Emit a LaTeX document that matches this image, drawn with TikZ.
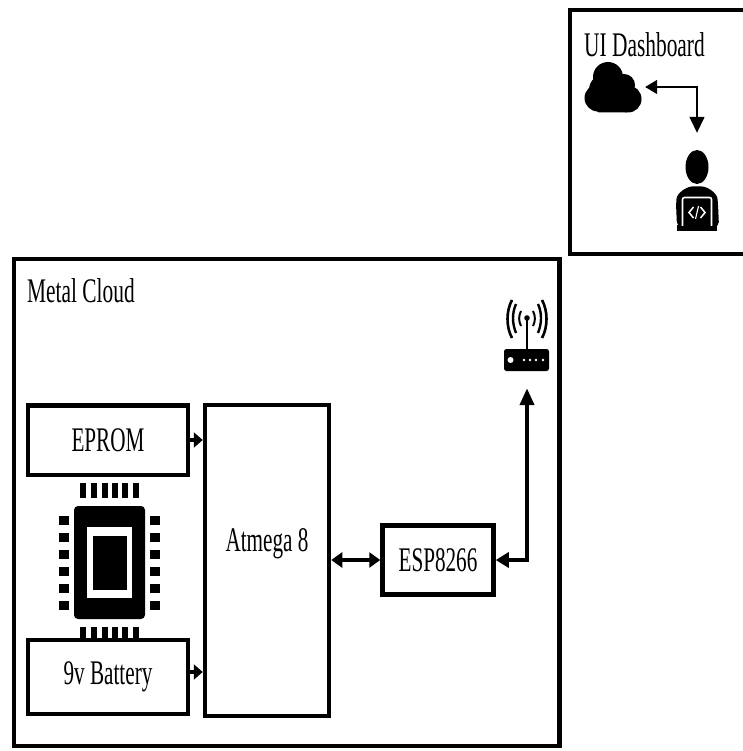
\documentclass[tikz,border=0pt]{standalone}
\usepackage{fontspec}
\setmainfont{Liberation Serif}
\usetikzlibrary{arrows.meta}
\tikzset{
  frame/.style={draw=black,line width=4.5pt,fill=none,inner sep=0pt},
  blockbox/.style={draw=black,line width=4.5pt,fill=white,inner sep=0pt},
  lbl/.style={inner sep=0pt,text=black},
  link/.style={line width=4pt,-{Triangle[length=9pt,width=15pt]}},
  dlink/.style={line width=4pt,{Triangle[length=11pt,width=15pt]}-{Triangle[length=11pt,width=15pt]}},
  thin link/.style={line width=1.4pt,{Triangle[length=12pt,width=14pt]}-{Triangle[length=16pt,width=15pt]}},
  anchorbox/.style={inner sep=0pt,draw=none,fill=none},
}
\newcommand{\tall}[2]{\scalebox{#1}[1.5]{\fontsize{23}{23}\selectfont #2}}
\begin{document}
\begin{tikzpicture}[x=1pt,y=-1pt]
\useasboundingbox (0,0) rectangle (742,751);
\fill[white] (0,0) rectangle (742,751);
% frames
\draw[frame] (570,10) -- (744,10);
\draw[frame] (570,8) -- (570,254) -- (744,254);
\draw[frame] (14,259) rectangle (559.5,746);
\node[lbl,anchor=west] (uilabel) at (584,45) {\tall{0.93}{UI Dashboard}};
\node[lbl,anchor=west] (mclabel) at (27,291) {\tall{0.93}{Metal Cloud}};
% blocks
\node[blockbox,minimum width=160pt,minimum height=69.5pt] (eprom) at (108,440) {\tall{0.92}{EPROM}};
\node[blockbox,minimum width=160pt,minimum height=74pt] (batt) at (108,677) {\tall{0.92}{9v Battery}};
\node[blockbox,minimum width=124pt,minimum height=311pt] (atm) at (267,560.5) {};
\node[lbl] (atmlabel) at (267,544) {\tall{0.92}{Atmega 8}};
\node[blockbox,minimum width=111pt,minimum height=69pt] (esp) at (438,560) {\tall{0.92}{ESP8266}};
% chip
\fill[black,rounded corners=4pt] (74,506) rectangle (145,619);
\fill[white] (87,526.5) rectangle (132,598);
\fill[black] (92.5,535.5) rectangle (127,590);
\foreach \x in {80,91,101.5,112,122,133}{\fill[black] (\x,483) rectangle +(6,15);\fill[black] (\x,627) rectangle +(6,13);}
\foreach \y in {516,532.5,550,567,584,600.5}{\fill[black] (59,\y) rectangle +(10,9);\fill[black] (150,\y) rectangle +(9.5,9);}
% router
\node[anchorbox,minimum width=44pt,minimum height=22pt] (router) at (527,377) {};
\fill[black,rounded corners=2.5pt] (504,349) rectangle (549,371);
\fill[white] (510.5,360) circle (3pt);
\foreach \x in {524,530,536,543}{\fill[white] (\x,360) circle (1.3pt);}
\draw[black,line width=2.4pt] (527,349) -- (527,318);
\fill[black] (527,318) circle (2.8pt);
\draw[black,line width=2pt] (521,311) .. controls (518.5,316) and (518.5,321) .. (521,326);
\draw[black,line width=2pt] (533,311) .. controls (535.5,316) and (535.5,321) .. (533,326);
\draw[black,line width=2.4pt] (516,304) .. controls (512,313) and (512,323) .. (516,333);
\draw[black,line width=2.4pt] (538,304) .. controls (542,313) and (542,323) .. (538,333);
\draw[black,line width=2.6pt] (512,300) .. controls (506,311) and (506,327) .. (512,338);
\draw[black,line width=2.6pt] (542,300) .. controls (548,311) and (548,327) .. (542,338);
% cloud
\node[anchorbox,minimum width=60pt,minimum height=52pt] (cloud) at (615,87) {};
\fill[black,rounded corners=2pt] (597,90) rectangle (628,112.5);
\fill[black] (598,98) circle (13.5pt);
\fill[black] (608,77) circle (15pt);
\fill[black] (605,90) circle (16pt);
\fill[black] (624,85) circle (11pt);
\fill[black] (628,99) circle (13.5pt);
% person
\node[anchorbox,minimum width=44pt,minimum height=98pt] (person) at (697,182) {};
\fill[black] (697,167) ellipse (11.5pt and 17pt);
\fill[black,rounded corners=5pt] (677,227) -- (676,204) .. controls (677,193) and (686,187) .. (697,186)
  .. controls (708,187) and (717,193) .. (718,204) -- (719,227) -- cycle;
\fill[black] (677,225) rectangle (717,231);
\draw[white,line width=1.6pt,rounded corners=2pt,fill=black] (682.5,226) -- (682.5,197.5) -- (711.5,197.5) -- (711.5,226);
\fill[black] (678,226) rectangle (717,231);
\draw[white,line width=1.5pt] (693.5,207) -- (689,212.5) -- (693.5,218);
\draw[white,line width=1.5pt] (700.5,207) -- (705,212.5) -- (700.5,218);
\draw[white,line width=1.1pt] (698.5,206) -- (695.5,219);
% connectors
\draw[link] (eprom.east) -- (atm.west |- eprom.east);
\coordinate (b1) at (batt.east |- 0,672);
\draw[link] (b1) -- (atm.west |- b1);
\draw[dlink] (atm.east |- esp.west) -- (esp.west);
\coordinate (bend) at (527,560);
\draw[line width=4pt,{Triangle[length=13pt,width=15pt]}-{Triangle[length=17pt,width=14pt]}] (esp.east) -- (bend) -- (router.south);
\coordinate (cbend) at (697,87);
\draw[thin link] (cloud.east) -- (cbend) -- (person.north);
\end{tikzpicture}
\end{document}
